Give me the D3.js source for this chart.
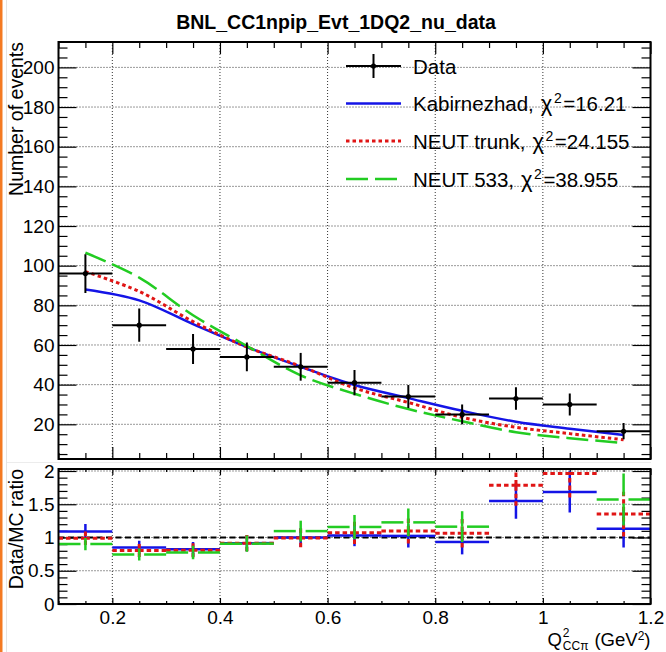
<!DOCTYPE html>
<html>
<head>
<meta charset="utf-8">
<script src="https://cdn.jsdelivr.net/npm/d3@7"></script>
<style>
  body { margin: 0; background: #fff; }
  svg { display: block; }
  text { font-family: "Liberation Sans", Arial, Helvetica, sans-serif; fill: #000; }
</style>
</head>
<body>
<svg id="chart" width="666" height="652"></svg>
<script>
// Q^2 binning (GeV^2)
const q2Edges   = [0.1, 0.2, 0.3, 0.4, 0.5, 0.6, 0.7, 0.8, 0.9, 1.0, 1.1, 1.2];
const q2Centers = [0.15, 0.25, 0.35, 0.45, 0.55, 0.65, 0.75, 0.85, 0.95, 1.05, 1.15];

// BNL data: event counts and their errors
const dataCounts = [96, 70, 58, 54, 49, 41, 34, 25, 33, 30, 16.5];
const dataErrors = [9.8, 8.4, 7.6, 7.3, 7.0, 6.4, 5.8, 5.0, 5.7, 5.5, 4.1];

// Model predictions per bin
const kabirnezhad = [88, 82.5, 70.5, 59, 49, 39.8, 33.2, 26.8, 21.3, 17.8, 14.6];
const neutTrunk   = [97, 87, 71.8, 59, 49.3, 38.3, 31, 23.5, 18.5, 15.3, 12.2];
const neut533     = [106.5, 94, 75, 59.5, 44.7, 35.4, 27.7, 21.5, 16, 13, 10.5];

// Legend text
const modelNames = ["Kabirnezhad", "NEUT trunk", "NEUT 533"];
const chi2Values = ["16.21", "24.155", "38.955"];

// Axis ticks
const xMajorTicks   = [0.2, 0.4, 0.6, 0.8, 1.0, 1.2];
const xTickLabels   = ["0.2", "0.4", "0.6", "0.8", "1", "1.2"];
const yMajorTicks   = [20, 40, 60, 80, 100, 120, 140, 160, 180, 200];
const yTickLabels   = ["20", "40", "60", "80", "100", "120", "140", "160", "180", "200"];
const rMajorTicks   = [0, 0.5, 1, 1.5, 2];
const rTickLabels   = ["0", "0.5", "1", "1.5", "2"];

const FONT = '"Liberation Sans", Arial, Helvetica, sans-serif';

const styles = [
  { values: kabirnezhad, color: "#1414e6", dash: null,    width: 2.5, rDash: null,  rWidth: 2.5 },
  { values: neutTrunk,   color: "#e01515", dash: "3.5,3", width: 3,   rDash: "4.5,3", rWidth: 3 },
  { values: neut533,     color: "#22cc22", dash: "22,7",  width: 2.5, rDash: "22,7", rWidth: 2.5 }
];

const svg = d3.select("#chart");

// Page decoration on the left edge
svg.append("rect").attr("x", 0).attr("y", 0).attr("width", 2.5).attr("height", 652).attr("fill", "#f47a22");
svg.append("line").attr("x1", 6.5).attr("x2", 6.5).attr("y1", 0).attr("y2", 652).attr("stroke", "#e4e4e4");
svg.append("line").attr("x1", 7).attr("x2", 651).attr("y1", 462.5).attr("y2", 462.5).attr("stroke", "#ececec");

// Frames
const frameL = 58.5, frameR = 650.5;
const upperFrame = { y0: 42, y1: 459 };
const lowerFrame = { y0: 469, y1: 604 };

const x  = d3.scaleLinear().domain([0.1, 1.2]).range([frameL, frameR]);
const y  = d3.scaleLinear().domain([2.5, 212.8]).range([upperFrame.y1, upperFrame.y0]);
const yr = d3.scaleLinear().domain([0, 2.03]).range([lowerFrame.y1, lowerFrame.y0]);

const xMinor = d3.range(0.1, 1.2001, 0.05).map(v => +v.toFixed(3)).filter(v => !xMajorTicks.some(m => Math.abs(m - v) < 1e-6));
const yMinor = d3.range(5, 212, 5).filter(v => v % 20 !== 0);
const rMinor = d3.range(0, 2.03, 0.1).map(v => +v.toFixed(2)).filter(v => Math.abs(v * 2 - Math.round(v * 2)) > 1e-6);

// Title
svg.append("text").attr("x", 336).attr("y", 29).attr("text-anchor", "middle")
  .style("font-size", "19.5px").style("font-weight", "bold")
  .text("BNL_CC1npip_Evt_1DQ2_nu_data");

function dotted(g, x1, y1, x2, y2) {
  g.append("line").attr("x1", x1).attr("y1", y1).attr("x2", x2).attr("y2", y2)
    .attr("stroke", "#333").attr("stroke-width", 1).attr("stroke-dasharray", "1,2");
}

function styleAxis(g) {
  g.select(".domain").remove();
  g.selectAll(".tick line").attr("stroke", "#000").attr("stroke-width", 1.2);
  g.selectAll("text").style("font-family", FONT);
}

function drawAxes(yScale, y0, y1, yMaj, yMin, yLabels, xMajLen, xMinLen, showXLabels) {
  const g = svg.append("g");
  // grid
  xMajorTicks.filter(v => v < 1.2).forEach(v => dotted(g, x(v), y0, x(v), y1));
  yMaj.filter(v => yScale(v) > y0 + 1 && yScale(v) < y1 - 1).forEach(v => dotted(g, frameL, yScale(v), frameR, yScale(v)));

  const yMajIn = yMaj.filter(v => yScale(v) <= y1 + 0.5);
  // left
  const left = g.append("g").attr("transform", `translate(${frameL},0)`)
    .call(d3.axisLeft(yScale).tickValues(yMajIn).tickSize(-18).tickPadding(4)
      .tickFormat(d => yLabels[yMaj.indexOf(d)]));
  styleAxis(left);
  left.selectAll("text").style("font-size", "19px");
  styleAxis(g.append("g").attr("transform", `translate(${frameL},0)`)
    .call(d3.axisLeft(yScale).tickValues(yMin).tickSize(-9).tickFormat("")));
  // right
  styleAxis(g.append("g").attr("transform", `translate(${frameR},0)`)
    .call(d3.axisRight(yScale).tickValues(yMajIn).tickSize(-18).tickFormat("")));
  styleAxis(g.append("g").attr("transform", `translate(${frameR},0)`)
    .call(d3.axisRight(yScale).tickValues(yMin).tickSize(-9).tickFormat("")));
  // bottom
  const bottom = g.append("g").attr("transform", `translate(0,${y1})`)
    .call(d3.axisBottom(x).tickValues(xMajorTicks).tickSize(-xMajLen).tickPadding(7)
      .tickFormat((d, i) => showXLabels ? xTickLabels[i] : ""));
  styleAxis(bottom);
  bottom.selectAll("text").style("font-size", "19px");
  styleAxis(g.append("g").attr("transform", `translate(0,${y1})`)
    .call(d3.axisBottom(x).tickValues(xMinor).tickSize(-xMinLen).tickFormat("")));
  // top
  styleAxis(g.append("g").attr("transform", `translate(0,${y0})`)
    .call(d3.axisTop(x).tickValues(xMajorTicks).tickSize(-xMajLen).tickFormat("")));
  styleAxis(g.append("g").attr("transform", `translate(0,${y0})`)
    .call(d3.axisTop(x).tickValues(xMinor).tickSize(-xMinLen).tickFormat("")));
  return g;
}

drawAxes(y, upperFrame.y0, upperFrame.y1, yMajorTicks, yMinor, yTickLabels, 12, 6, false);
drawAxes(yr, lowerFrame.y0, lowerFrame.y1, rMajorTicks, rMinor, rTickLabels, 6, 3, true);

// Clip paths
const defs = svg.append("defs");
defs.append("clipPath").attr("id", "clipTop").append("rect")
  .attr("x", frameL).attr("y", upperFrame.y0).attr("width", frameR - frameL).attr("height", upperFrame.y1 - upperFrame.y0);
defs.append("clipPath").attr("id", "clipBot").append("rect")
  .attr("x", frameL).attr("y", lowerFrame.y0).attr("width", frameR - frameL).attr("height", lowerFrame.y1 - lowerFrame.y0);

// ---- Upper panel: smooth model curves ----
const upper = svg.append("g").attr("clip-path", "url(#clipTop)");
const line = d3.line().x((d, i) => x(q2Centers[i])).y(d => y(d)).curve(d3.curveCatmullRom.alpha(0.5));
styles.forEach(s => {
  upper.append("path").attr("d", line(s.values)).attr("fill", "none")
    .attr("stroke", s.color).attr("stroke-width", s.width)
    .attr("stroke-dasharray", s.dash);
});

// Data points with error bars
const dataG = upper.append("g");
dataCounts.forEach((v, i) => {
  dataG.append("line").attr("x1", x(q2Edges[i])).attr("x2", x(q2Edges[i + 1]))
    .attr("y1", y(v)).attr("y2", y(v)).attr("stroke", "#000").attr("stroke-width", 2);
  dataG.append("line").attr("x1", x(q2Centers[i])).attr("x2", x(q2Centers[i]))
    .attr("y1", y(v - dataErrors[i])).attr("y2", y(v + dataErrors[i])).attr("stroke", "#000").attr("stroke-width", 2);
  dataG.append("circle").attr("cx", x(q2Centers[i])).attr("cy", y(v)).attr("r", 2.6).attr("fill", "#000");
});

// ---- Lower panel: data / model ratio ----
const lower = svg.append("g").attr("clip-path", "url(#clipBot)");
lower.append("line").attr("x1", frameL).attr("x2", frameR).attr("y1", yr(1)).attr("y2", yr(1))
  .attr("stroke", "#000").attr("stroke-width", 2.2).attr("stroke-dasharray", "6,3.5");

const rMax = yr.domain()[1];
styles.forEach(s => {
  const g = lower.append("g").attr("stroke", s.color).attr("stroke-width", s.rWidth)
    .attr("stroke-dasharray", s.rDash);
  s.values.forEach((mc, i) => {
    const r = dataCounts[i] / mc;
    const e = dataErrors[i] / mc;
    if (r < 0 || r > rMax) return;
    const cx = x(q2Centers[i]), cy = yr(r);
    // each half drawn from the outer end toward the bin centre
    g.append("line").attr("x1", x(q2Edges[i])).attr("x2", cx).attr("y1", cy).attr("y2", cy);
    g.append("line").attr("x1", x(q2Edges[i + 1])).attr("x2", cx).attr("y1", cy).attr("y2", cy);
    g.append("line").attr("x1", cx).attr("x2", cx).attr("y1", yr(r + e)).attr("y2", cy);
    g.append("line").attr("x1", cx).attr("x2", cx).attr("y1", yr(r - e)).attr("y2", cy);
  });
});

// Frames on top
[upperFrame, lowerFrame].forEach(f => {
  svg.append("rect").attr("x", frameL).attr("y", f.y0).attr("width", frameR - frameL).attr("height", f.y1 - f.y0)
    .attr("fill", "none").attr("stroke", "#000").attr("stroke-width", 2);
});

// ---- Legend ----
const leg = svg.append("g");
const legX0 = 346, legX1 = 401, legTx = 413;
const rows = [66, 103.5, 141, 179];
leg.append("line").attr("x1", legX0).attr("x2", legX1).attr("y1", rows[0]).attr("y2", rows[0]).attr("stroke", "#000").attr("stroke-width", 2);
leg.append("line").attr("x1", (legX0 + legX1) / 2).attr("x2", (legX0 + legX1) / 2).attr("y1", rows[0] - 12).attr("y2", rows[0] + 12).attr("stroke", "#000").attr("stroke-width", 2);
leg.append("circle").attr("cx", (legX0 + legX1) / 2).attr("cy", rows[0]).attr("r", 2.6).attr("fill", "#000");
leg.append("text").attr("x", legTx).attr("y", rows[0] + 7.5).style("font-size", "20.5px").text("Data");
styles.forEach((s, k) => {
  const ry = rows[k + 1];
  leg.append("line").attr("x1", legX0).attr("x2", legX1).attr("y1", ry).attr("y2", ry)
    .attr("stroke", s.color).attr("stroke-width", s.width).attr("stroke-dasharray", s.dash);
  const t = leg.append("text").attr("x", legTx).attr("y", ry + 7.5).style("font-size", "20.5px");
  t.append("tspan").text(modelNames[k] + ",");
  t.append("tspan").attr("dx", 7).style("font-size", "22px").text("χ");
  t.append("tspan").attr("dx", 1.5).attr("dy", -8).style("font-size", "14px").text("2");
  t.append("tspan").attr("dx", 1.5).attr("dy", 8).text("=" + chi2Values[k]);
});

// ---- Axis titles ----
svg.append("text").attr("transform", `translate(23,${upperFrame.y0}) rotate(-90)`)
  .attr("text-anchor", "end").style("font-size", "19.5px").text("Number of events");
svg.append("text").attr("transform", `translate(23,${lowerFrame.y0}) rotate(-90)`)
  .attr("text-anchor", "end").style("font-size", "19.5px").text("Data/MC ratio");

// x title: Q^2_{CCπ} (GeV^2), right aligned to the frame
(function () {
  const g = svg.append("g");
  const base = 646;
  const big = "18.5px", small = "12px";
  const q = g.append("text").attr("y", base).style("font-size", big).text("Q");
  const wq = q.node().getComputedTextLength();
  const sup = g.append("text").attr("y", base - 9).style("font-size", small).text("2");
  const sub = g.append("text").attr("y", base + 3.8).style("font-size", small).text("CCπ");
  const wsub = Math.max(sub.node().getComputedTextLength(), sup.node().getComputedTextLength());
  const gap = 6;
  const rest = g.append("text").attr("y", base).style("font-size", big);
  rest.append("tspan").text("(GeV");
  rest.append("tspan").attr("dy", -6).style("font-size", small).text("2");
  rest.append("tspan").attr("dy", 6).text(")");
  const wr = rest.node().getComputedTextLength();
  const total = wq + 1 + wsub + gap + wr;
  const xs = frameR - total;
  q.attr("x", xs);
  sup.attr("x", xs + wq + 1);
  sub.attr("x", xs + wq + 1);
  rest.attr("x", xs + wq + 1 + wsub + gap);
})();
</script>
</body>
</html>
